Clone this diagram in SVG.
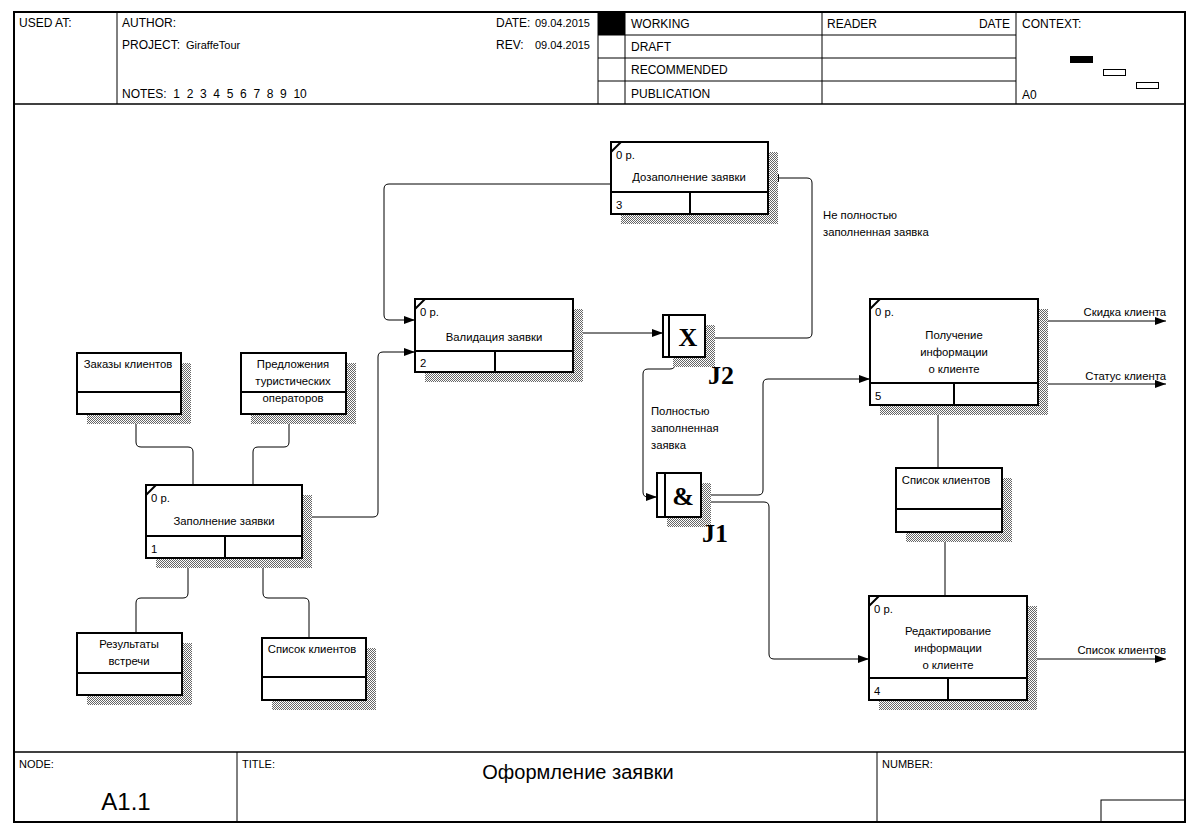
<svg xmlns="http://www.w3.org/2000/svg" width="1198" height="834" viewBox="0 0 1198 834">
<defs>
<pattern id="hatch" width="2" height="2" patternUnits="userSpaceOnUse"><rect width="2" height="2" fill="#fff"/><rect width="1" height="1" fill="#666"/><rect x="1" y="1" width="1" height="1" fill="#666"/></pattern>
<marker id="arr" markerUnits="userSpaceOnUse" markerWidth="12" markerHeight="10" refX="11" refY="5" orient="auto"><path d="M0,1 L11,5 L0,9 z" fill="#000"/></marker>
</defs>
<style>
text{font-family:"Liberation Sans",Arial,sans-serif;font-size:11.3px;fill:#000}
.h{font-size:12px}
.f{font-size:11px}
.big{font-size:20px}
.node{font-size:24px}
.c{text-anchor:middle}
.e{text-anchor:end}
.frm{fill:none;stroke:#000;stroke-width:1}
.box{fill:#fff;stroke:#000;stroke-width:2}
.div{stroke:#000;stroke-width:2;fill:none}
.sh{fill:url(#hatch)}
.con{fill:none;stroke:#000;stroke-width:1}
.ar{marker-end:url(#arr)}
.jl{font-family:"Liberation Serif","Times New Roman",serif;font-weight:bold;font-size:26px}
</style>
<rect width="1198" height="834" fill="#fff"/>
<g id="frame">
<rect x="14" y="12" width="1171" height="810" fill="none" stroke="#000" stroke-width="2"/>
<line x1="14" y1="104" x2="1185" y2="104" stroke="#000" stroke-width="1.5"/>
<line x1="14" y1="752" x2="1185" y2="752" stroke="#000" stroke-width="1.5"/>
<line class="frm" x1="117" y1="12" x2="117" y2="104"/>
<line class="frm" x1="598" y1="12" x2="598" y2="104"/>
<line class="frm" x1="625" y1="12" x2="625" y2="104"/>
<line class="frm" x1="822" y1="12" x2="822" y2="104"/>
<line class="frm" x1="1016" y1="12" x2="1016" y2="104"/>
<line class="frm" x1="598" y1="35" x2="1016" y2="35"/>
<line class="frm" x1="598" y1="58" x2="1016" y2="58"/>
<line class="frm" x1="598" y1="81" x2="1016" y2="81"/>
<rect x="598" y="12" width="27" height="23" fill="#000"/>
<rect x="1070" y="56" width="23" height="7" fill="#000"/>
<rect x="1103.5" y="69.5" width="22" height="6" fill="#fff" stroke="#000"/>
<rect x="1136.5" y="82.5" width="22" height="6" fill="#fff" stroke="#000"/>
<text x="19" y="27" class="h">USED AT:</text>
<text x="122" y="27" class="h">AUTHOR:</text>
<text x="122" y="49" class="h">PROJECT:</text>
<text x="186" y="49" class="f">GiraffeTour</text>
<text x="122" y="98" class="h" xml:space="preserve">NOTES:  1  2  3  4  5  6  7  8  9  10</text>
<text x="496" y="27" class="h">DATE:</text>
<text x="590" y="27" class="f e">09.04.2015</text>
<text x="496" y="49" class="h">REV:</text>
<text x="590" y="49" class="f e">09.04.2015</text>
<text x="631" y="28" class="h">WORKING</text>
<text x="631" y="51" class="h">DRAFT</text>
<text x="631" y="74" class="h">RECOMMENDED</text>
<text x="631" y="98" class="h">PUBLICATION</text>
<text x="827" y="28" class="h">READER</text>
<text x="1010" y="28" class="h e">DATE</text>
<text x="1022" y="28" class="h">CONTEXT:</text>
<text x="1022" y="99" class="h">A0</text>
<line class="frm" x1="237" y1="752" x2="237" y2="822"/>
<line class="frm" x1="877" y1="752" x2="877" y2="822"/>
<rect x="1101" y="800" width="84" height="22" fill="none" stroke="#000"/>
<text x="19" y="768" class="f">NODE:</text>
<text x="242" y="768" class="f">TITLE:</text>
<text x="882" y="768" class="f">NUMBER:</text>
<text x="126" y="810" class="c node">A1.1</text>
<text x="578" y="779" class="c big">Оформление заявки</text>
</g>
<g id="connectors">
<path class="con ar" d="M573,333 H663"/>
<path class="con ar" d="M705,338 H807 Q812,338 812,333 V183 Q812,178 807,178 H768"/>
<path class="con ar" d="M611,184 H389 Q384,184 384,189 V315 Q384,320 389,320 H415"/>
<path class="con ar" d="M302,517 H373 Q378,517 378,512 V357 Q378,352 383,352 H415"/>
<path class="con ar" d="M675,357 V364 Q675,369 670,369 H648 Q643,369 643,374 V492 Q643,497 648,497 H657"/>
<path class="con ar" d="M701,495 H758 Q763,495 763,490 V384 Q763,379 768,379 H870"/>
<path class="con ar" d="M701,502 H764 Q769,502 769,507 V654 Q769,659 774,659 H869"/>
<path class="con ar" d="M1038,321 H1166"/>
<path class="con ar" d="M1038,384 H1166"/>
<path class="con ar" d="M1027,659 H1166"/>
<path class="con" d="M938,405 V468"/>
<path class="con" d="M945,532 V596"/>
<path class="con" d="M136,414 V442 Q136,447 141,447 H188 Q193,447 193,452 V485"/>
<path class="con" d="M289,414 V442 Q289,447 284,447 H258 Q253,447 253,452 V485"/>
<path class="con" d="M188,558 V593 Q188,598 183,598 H141 Q136,598 136,603 V633"/>
<path class="con" d="M263,558 V593 Q263,598 268,598 H304 Q309,598 309,603 V638"/>
<text x="823" y="219">Не полностью</text>
<text x="823" y="236">заполненная заявка</text>
<text x="651" y="415">Полностью</text>
<text x="651" y="432">заполненная</text>
<text x="651" y="449">заявка</text>
<text x="1166" y="316" class="e">Скидка клиента</text>
<text x="1166" y="380" class="e">Статус клиента</text>
<text x="1166" y="654" class="e">Список клиентов</text>
</g>
<g id="node3">
<rect class="sh" x="621" y="152" width="157" height="72"/>
<rect class="box" x="611" y="142" width="157" height="72"/>
<line class="div" x1="611" y1="192" x2="768" y2="192"/>
<line class="div" x1="690" y1="192" x2="690" y2="214"/>
<line class="div" x1="611" y1="152" x2="621" y2="142"/>
<text x="616" y="159">0 р.</text>
<text x="689" y="181" class="c">Дозаполнение заявки</text>
<text x="616" y="209">3</text>
</g>
<g id="node2">
<rect class="sh" x="425" y="309" width="158" height="73"/>
<rect class="box" x="415" y="299" width="158" height="73"/>
<line class="div" x1="415" y1="351" x2="573" y2="351"/>
<line class="div" x1="495" y1="351" x2="495" y2="372"/>
<line class="div" x1="415" y1="309" x2="425" y2="299"/>
<text x="420" y="316">0 р.</text>
<text x="494" y="341" class="c">Валидация заявки</text>
<text x="420" y="367">2</text>
</g>
<g id="node1">
<rect class="sh" x="156" y="495" width="156" height="73"/>
<rect class="box" x="146" y="485" width="156" height="73"/>
<line class="div" x1="146" y1="536" x2="302" y2="536"/>
<line class="div" x1="225" y1="536" x2="225" y2="558"/>
<line class="div" x1="146" y1="495" x2="156" y2="485"/>
<text x="151" y="502">0 р.</text>
<text x="224" y="525" class="c">Заполнение заявки</text>
<text x="151" y="553">1</text>
</g>
<g id="node5">
<rect class="sh" x="880" y="309" width="168" height="106"/>
<rect class="box" x="870" y="299" width="168" height="106"/>
<line class="div" x1="870" y1="383" x2="1038" y2="383"/>
<line class="div" x1="954" y1="383" x2="954" y2="405"/>
<line class="div" x1="870" y1="309" x2="880" y2="299"/>
<text x="875" y="316">0 р.</text>
<text x="954" y="339" class="c">Получение</text>
<text x="954" y="356" class="c">информации</text>
<text x="954" y="373" class="c">о клиенте</text>
<text x="875" y="400">5</text>
</g>
<g id="node4">
<rect class="sh" x="879" y="606" width="158" height="104"/>
<rect class="box" x="869" y="596" width="158" height="104"/>
<line class="div" x1="869" y1="678" x2="1027" y2="678"/>
<line class="div" x1="948" y1="678" x2="948" y2="700"/>
<line class="div" x1="869" y1="606" x2="879" y2="596"/>
<text x="874" y="613">0 р.</text>
<text x="948" y="635" class="c">Редактирование</text>
<text x="948" y="652" class="c">информации</text>
<text x="948" y="669" class="c">о клиенте</text>
<text x="874" y="695">4</text>
</g>
<g id="orders">
<rect class="sh" x="87" y="363" width="104" height="61"/>
<rect class="box" x="77" y="353" width="104" height="61"/>
<line class="div" x1="77" y1="392" x2="181" y2="392"/>
<text x="128" y="368" class="c">Заказы клиентов</text>
</g>
<g id="offers">
<rect class="sh" x="251" y="363" width="105" height="61"/>
<rect class="box" x="241" y="353" width="105" height="61"/>
<line class="div" x1="241" y1="392" x2="346" y2="392"/>
<text x="293" y="368" class="c">Предложения</text>
<text x="293" y="385" class="c">туристических</text>
<text x="293" y="402" class="c">операторов</text>
</g>
<g id="results">
<rect class="sh" x="87" y="643" width="105" height="62"/>
<rect class="box" x="77" y="633" width="105" height="62"/>
<line class="div" x1="77" y1="673" x2="182" y2="673"/>
<text x="129" y="648" class="c">Результаты</text>
<text x="129" y="665" class="c">встречи</text>
</g>
<g id="clients1">
<rect class="sh" x="272" y="648" width="104" height="62"/>
<rect class="box" x="262" y="638" width="104" height="62"/>
<line class="div" x1="262" y1="677" x2="366" y2="677"/>
<text x="312" y="653" class="c">Список клиентов</text>
</g>
<g id="clients2">
<rect class="sh" x="906" y="478" width="106" height="64"/>
<rect class="box" x="896" y="468" width="106" height="64"/>
<line class="div" x1="896" y1="509" x2="1002" y2="509"/>
<text x="946" y="484" class="c">Список клиентов</text>
</g>
<g id="J2">
<rect class="sh" x="673" y="325" width="42" height="42"/>
<rect class="box" x="663" y="315" width="42" height="42"/>
<line class="div" x1="669" y1="315" x2="669" y2="357"/>
<text x="688" y="346" class="c jl">X</text>
<text x="721" y="384" class="c jl">J2</text>
</g>
<g id="J1">
<rect class="sh" x="667" y="483" width="44" height="44"/>
<rect class="box" x="657" y="473" width="44" height="44"/>
<line class="div" x1="665" y1="473" x2="665" y2="517"/>
<text x="683" y="505" class="c jl">&amp;</text>
<text x="715" y="542" class="c jl">J1</text>
</g>
</svg>
